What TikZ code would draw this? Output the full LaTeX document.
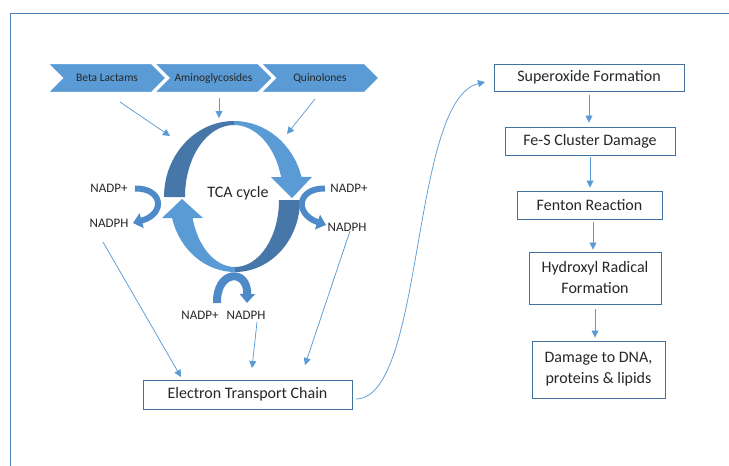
\documentclass[tikz,border=0pt]{standalone}
\usepackage{fontspec}
\setmainfont{Carlito}
\usetikzlibrary{arrows.meta,shapes.symbols}

\definecolor{officeblue}{HTML}{5B9BD5}
\definecolor{darkblue}{HTML}{4677A8}
\definecolor{midblue}{HTML}{4E8AC8}
\definecolor{framecol}{HTML}{4A7EBB}
\definecolor{boxline}{HTML}{41719C}

\begin{document}
\begin{tikzpicture}[x=1pt,y=-1pt,node distance=106.5pt]
\tikzstyle{chevron}=[signal,signal from=west,signal to=east,fill=officeblue,draw=white,line width=1.2pt,minimum width=118pt,minimum height=29pt,inner sep=0pt,text=black!85,font=\fontsize{11.5}{14}\selectfont]
\tikzstyle{stepbox}=[draw=boxline,line width=0.9pt,align=center,inner sep=0pt,text=black!85,font=\fontsize{16}{21}\selectfont]
\tikzstyle{cofactor}=[inner sep=0pt,text=black!85,font=\fontsize{13}{15}\selectfont]
\tikzstyle{conn}=[draw=officeblue,line width=0.75pt,-{Triangle[length=7pt,width=7pt]}]
\tikzstyle{turn}=[draw=midblue,line width=6pt,-{Triangle[length=9pt,width=15pt]}]

\useasboundingbox (0,0) rectangle (729,466);
\draw[framecol,line width=1pt] (10,466) -- (10,13) -- (729,13);

% Antibiotic classes
\node[chevron] (beta) at (107,78) {Beta Lactams};
\node[chevron, right of=beta] (amino) {Aminoglycosides};
\node[chevron, right of=amino] (quino) {Quinolones};

% Draw the TCA cycle arrows
\fill[darkblue] (164,197) arc[start angle=180,end angle=270,x radius=70,y radius=76]
  -- (234,125) arc[start angle=270,end angle=180,x radius=49,y radius=72] -- cycle;
\fill[officeblue] (234,121) arc[start angle=270,end angle=344.7,x radius=70,y radius=76]
  -- (312,177) -- (292,198) -- (271,177) -- (281.1,177)
  arc[start angle=343.87,end angle=270,x radius=49,y radius=72] -- cycle;
\fill[darkblue] (300,200) arc[start angle=0,end angle=90,x radius=65,y radius=72]
  -- (235,267) arc[start angle=90,end angle=0,x radius=44,y radius=67] -- cycle;
\fill[officeblue] (235,272) arc[start angle=90,end angle=165.52,x radius=65,y radius=72]
  -- (162,218) -- (182,199) -- (203,218) -- (192.6,218)
  arc[start angle=164.41,end angle=90,x radius=44,y radius=67] -- cycle;
\node[inner sep=0pt,text=black!85,font=\fontsize{16}{19}\selectfont] (tca) at (238,193) {TCA cycle};

% Write cofactor labels
\node[cofactor] (nadpL) at (109,188) {NADP+};
\node[cofactor] (nadphL) at (109,223) {NADPH};
\node[cofactor] (nadpR) at (349,188) {NADP+};
\node[cofactor] (nadphR) at (347,227) {NADPH};
\node[cofactor] (nadpB) at (200,315) {NADP+};
\node[cofactor] (nadphB) at (246,315) {NADPH};

% NADP+ to NADPH turns
\draw[turn] (135,188.5) .. controls (163,188) and (166,214) .. (133,223);
\draw[turn] (325,188.5) .. controls (297,188) and (294,214) .. (326,225);
\draw[turn,line width=8pt] (217,303) .. controls (216,270) and (248,268) .. (247,303);

% Boxes
\node[stepbox,minimum width=209pt,minimum height=29pt] (etc) at (247.5,394.5) {Electron Transport Chain};
\node[stepbox,minimum width=190pt,minimum height=27pt] (sup) at (589,77.5) {Superoxide Formation};
\node[stepbox,minimum width=170pt,minimum height=28pt] (fes) at (590,141) {Fe-S Cluster Damage};
\node[stepbox,minimum width=145pt,minimum height=28pt] (fen) at (589.5,205) {Fenton Reaction};
\node[stepbox,minimum width=132pt,minimum height=52pt] (hyd) at (595,278) {Hydroxyl Radical\\Formation};
\node[stepbox,minimum width=133pt,minimum height=57pt] (dmg) at (598.5,369.5) {Damage to DNA,\\proteins \& lipids};

% Arrow end points
\coordinate (betaout) at (120,102);
\coordinate (aminoout) at (219,98);
\coordinate (quinoout) at (315,99);
\coordinate (tcain1) at (170,136);
\coordinate (tcain2) at (219,118);
\coordinate (tcain3) at (287,134);
\coordinate (nadphLout) at (103,242);
\coordinate (nadphBout) at (257,322);
\coordinate (nadphRout) at (350,231);
\coordinate (etcin1) at (181,377);
\coordinate (etcin2) at (252,368);
\coordinate (etcin3) at (305,365);
\coordinate (etcout) at (356,399);
\coordinate (supin) at (485,82);

\draw[conn] (betaout) -- (tcain1);
\draw[conn] (aminoout) -- (tcain2);
\draw[conn] (quinoout) -- (tcain3);

\draw[conn] (nadphLout) -- (etcin1);
\draw[conn] (nadphBout) -- (etcin2);
\draw[conn] (nadphRout) -- (etcin3);

\draw[conn] (etcout) .. controls (425,398) and (410,100) .. (supin);

% Connect the damage steps
\draw[conn,shorten <=4pt,shorten >=4pt] (sup.south) -- (sup.south |- fes.north);
\draw[conn,shorten <=2pt,shorten >=3pt] (fes.south) -- (fes.south |- fen.north);
\draw[conn,shorten <=3pt,shorten >=2pt] ([xshift=3.5pt]fen.south) -- ([xshift=3.5pt]fen.south |- hyd.north);
\draw[conn,shorten <=5pt,shorten >=3pt] (hyd.south) -- (hyd.south |- dmg.north);

\end{tikzpicture}
\end{document}
